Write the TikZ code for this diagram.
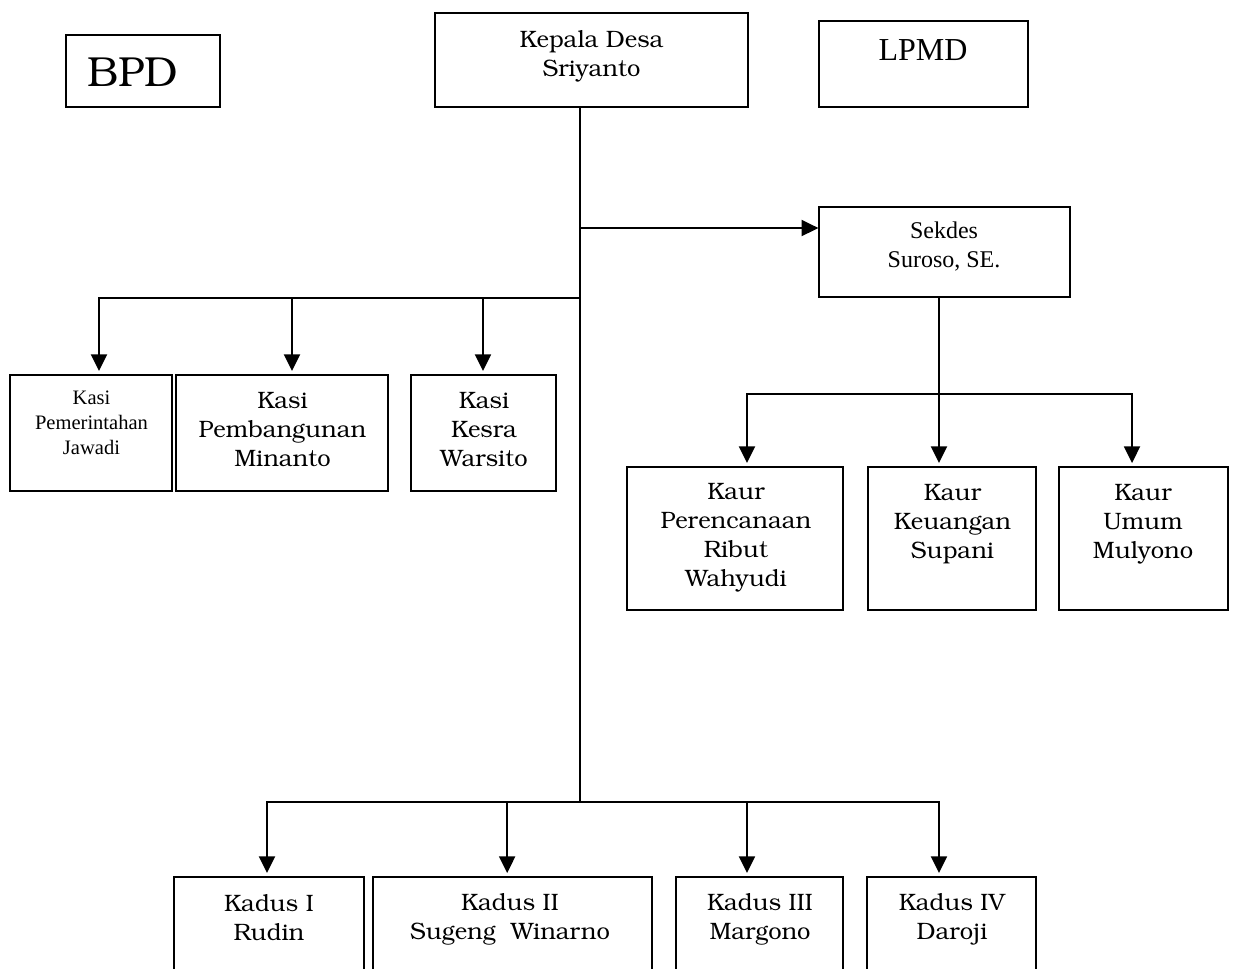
\documentclass[tikz,border=0pt]{standalone}
\usepackage[T1]{fontenc}
\usepackage{fontspec}
\usetikzlibrary{arrows.meta}
\newfontfamily\timesf{Liberation Serif}
\newcommand\bkf{\fontencoding{T1}\fontfamily{pbk}\selectfont}
\newcommand\obox[5]{\node[obox, minimum width={(#4-#2)*0.75pt}, minimum height={(#5-#3)*0.75pt}] (#1) at ({(#2+#4)/2},{(#3+#5)/2}) {};}
\tikzset{
  obox/.style={draw, line width=1pt, rectangle, inner sep=0pt},
  bk/.style={inner sep=0pt, align=center, font=\bkf\fontsize{17.8}{21.75}\selectfont},
  tm/.style={inner sep=0pt, align=center, font=\timesf\fontsize{18}{21.75}\selectfont},
  ln/.style={line width=1pt},
  arr/.style={line width=1.5pt, -{Triangle[length=12.5pt,width=12pt]}, shorten >=2.5pt},
}
\begin{document}
\begin{tikzpicture}[x=0.75pt,y=-0.75pt]
\useasboundingbox (0,0) rectangle (1235,968);
\fill[white] (0,0) rectangle (1235,968);
\clip (0,0) rectangle (1235,968);
% boxes
\obox{bpd}{66}{35}{220}{107}
\obox{kd}{435}{13}{748}{107}
\obox{lpmd}{819}{21}{1028}{107}
\obox{sek}{819}{207}{1070}{297}
\obox{k1}{10}{375}{172}{491}
\obox{k2}{176}{375}{388}{491}
\obox{k3}{411}{375}{556}{491}
\obox{u1}{627}{467}{843}{610}
\obox{u2}{868}{467}{1036}{610}
\obox{u3}{1059}{467}{1228}{610}
\obox{d1}{174}{877}{364}{1000}
\obox{d2}{373}{877}{652}{1000}
\obox{d3}{676}{877}{843}{1000}
\obox{d4}{867}{877}{1036}{1000}
% texts
\node[inner sep=0pt, font=\bkf\fontsize{31.5}{36}\selectfont] (bpdt) at (133,72) {BPD};
\node[bk] (kdt) at (591.5,56.5) {Kepala Desa\\Sriyanto};
\node[inner sep=0pt, font=\timesf\fontsize{24}{28}\selectfont] (lpmdt) at (923,50.5) {LPMD};
\node[tm] (sekt) at (944,247) {Sekdes\\Suroso, SE.};
\node[inner sep=0pt, align=center, font=\timesf\fontsize{15.4}{18.75}\selectfont] (k1t) at (91.5,423) {Kasi\\Pemerintahan\\Jawadi};
\node[bk] (k2t) at (282.5,429.5) {Kasi\\Pembangunan\\Minanto};
\node[bk] (k3t) at (484,429.5) {Kasi\\Kesra\\Warsito};
\node[bk] (u1t) at (736,537.5) {Kaur\\Perencanaan\\Ribut\\Wahyudi};
\node[bk] (u2t) at (952.5,523.5) {Kaur\\Keuangan\\Supani};
\node[bk] (u3t) at (1143,523.5) {Kaur\\Umum\\Mulyono};
\node[bk] (d1t) at (269,917.5) {Kadus I\\Rudin};
\node[bk] (d2t) at (510,920) {Kadus II\\Sugeng~~Winarno};
\node[bk] (d3t) at (760,919.5) {Kadus III\\Margono};
\node[bk] (d4t) at (952,919.5) {Kadus IV\\Daroji};
% junctions
\coordinate (jS) at (580,228);
\coordinate (jK) at (580,298);
\coordinate (jD) at (580,802);
\coordinate (jT) at (939,394);
% connectors
\draw[ln] (kd.south -| jD) -- (jD);
\draw[arr, shorten >=0pt] (jS) -- (jS -| sek.west);
\draw[arr] (jK) -| ([xshift=6pt]k1.north);
\draw[arr] (jK) -| ([xshift=7.5pt]k2.north);
\draw[arr] (jK) -| ([xshift=-0.4pt]k3.north);
\draw[ln] (sek.south -| jT) -- (jT);
\draw[arr] (jT) -| ([xshift=9pt]u1.north);
\draw[arr] (jT) -- ([xshift=-9.75pt]u2.north);
\draw[arr] (jT) -| ([xshift=-8.6pt]u3.north);
\draw[arr] (jD) -| ([xshift=-1.5pt]d1.north);
\draw[arr] (jD) -| ([xshift=-4pt]d2.north);
\draw[arr] (jD) -| ([xshift=-9.4pt]d3.north);
\draw[arr] (jD) -| ([xshift=-9.4pt]d4.north);
\end{tikzpicture}
\end{document}
